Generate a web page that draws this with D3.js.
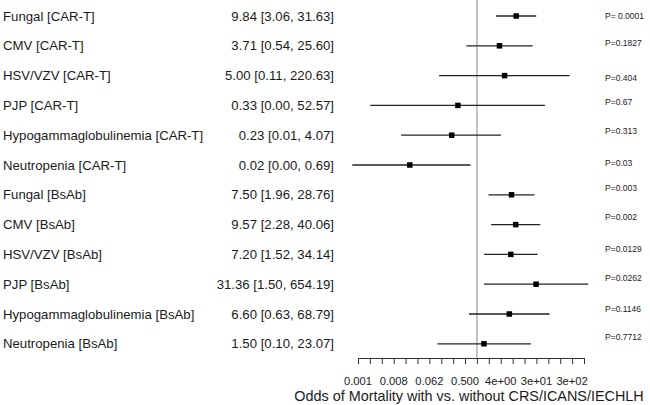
<!DOCTYPE html>
<html>
<head>
<meta charset="utf-8">
<script src="https://cdn.jsdelivr.net/npm/d3@7"></script>
<style>
  html, body { margin: 0; padding: 0; background: #fff; }
  svg { display: block; font-family: "Liberation Sans", Arial, sans-serif; }
</style>
</head>
<body>
<svg id="chart" width="650" height="405"></svg>
<script>
// ---- data ----
const categories = [
  "Fungal [CAR-T]", "CMV [CAR-T]", "HSV/VZV [CAR-T]", "PJP [CAR-T]",
  "Hypogammaglobulinemia [CAR-T]", "Neutropenia [CAR-T]",
  "Fungal [BsAb]", "CMV [BsAb]", "HSV/VZV [BsAb]", "PJP [BsAb]",
  "Hypogammaglobulinemia [BsAb]", "Neutropenia [BsAb]"
];
const oddsRatio = [9.84, 3.71, 5.00, 0.33, 0.23, 0.02, 7.50, 9.57, 7.20, 31.36, 6.60, 1.50];
const ciLower   = [3.06, 0.54, 0.11, 0.002, 0.012, 0.0007, 1.96, 2.28, 1.52, 1.50, 0.63, 0.10];
const ciUpper   = [31.63, 25.60, 220.63, 52.57, 4.07, 0.69, 28.76, 40.06, 34.14, 654.19, 68.79, 23.07];
const pLabels   = ["P= 0.0001", "P=0.1827", "P=0.404", "P=0.67", "P=0.313", "P=0.03",
                   "P=0.003", "P=0.002", "P=0.0129", "P=0.0262", "P=0.1146", "P=0.7712"];
// row position (in row units) at which each P label sits
const pLabelRow = [0, 0.9, 2.08, 2.89, 3.86, 4.95, 5.77, 6.74, 7.82, 8.79, 9.83, 10.77];
const tickValues = [0.0009765625, 0.0078125, 0.0625, 0.5, 4, 32, 256];
const tickLabels = ["0.001", "0.008", "0.062", "0.500", "4e+00", "3e+01", "3e+02"];
const axisTitle = "Odds of Mortality with vs. without CRS/ICANS/IECHLH";

// ---- layout ----
const svg = d3.select("#chart");
const ink = "#1b1b1b";

const x = d3.scaleLog().base(2)
  .domain([Math.pow(2, -10), Math.pow(2, 9)])
  .range([358, 584]);

const rowY = d3.scaleLinear().domain([0, categories.length - 1]).range([16, 343.8]);
const y = d3.scalePoint().domain(categories).range([16, 343.8]);

const axisY = 358;

// reference line at OR = 1
svg.append("line")
  .attr("x1", x(1)).attr("x2", x(1))
  .attr("y1", 0).attr("y2", axisY)
  .attr("stroke", "#8a8a8a").attr("stroke-width", 1);

// row labels
svg.append("g").selectAll("text")
  .data(categories).join("text")
  .attr("x", 3)
  .attr("y", d => y(d))
  .attr("dy", "0.35em")
  .attr("font-size", 13.2)
  .attr("fill", ink)
  .text(d => d);

// estimates text
const fmt = v => v.toFixed(2);
svg.append("g").selectAll("text")
  .data(categories).join("text")
  .attr("x", 334)
  .attr("y", d => y(d))
  .attr("dy", "0.35em")
  .attr("text-anchor", "end")
  .attr("font-size", 13.2)
  .attr("fill", ink)
  .text((d, i) => `${fmt(oddsRatio[i])} [${fmt(ciLower[i])}, ${fmt(ciUpper[i])}]`);

// CI lines
svg.append("g").selectAll("line")
  .data(categories).join("line")
  .attr("x1", (d, i) => x(ciLower[i]))
  .attr("x2", (d, i) => x(ciUpper[i]))
  .attr("y1", d => y(d)).attr("y2", d => y(d))
  .attr("stroke", "#222").attr("stroke-width", 1.3);

// point squares
const sq = 5.5;
svg.append("g").selectAll("rect")
  .data(categories).join("rect")
  .attr("x", (d, i) => x(oddsRatio[i]) - sq / 2)
  .attr("y", d => y(d) - sq / 2)
  .attr("width", sq).attr("height", sq)
  .attr("fill", "#000");

// P values
svg.append("g").selectAll("text")
  .data(pLabels).join("text")
  .attr("x", 605)
  .attr("y", (d, i) => rowY(pLabelRow[i]))
  .attr("dy", "0.35em")
  .attr("font-size", 8.5)
  .attr("fill", ink)
  .text(d => d);

// x axis
const minorTicks = d3.range(-10, 10).map(k => Math.pow(2, k));
const axisG = svg.append("g").attr("transform", `translate(0,${axisY})`);
axisG.call(d3.axisBottom(x).tickValues(minorTicks).tickFormat("").tickSizeOuter(0).tickSizeInner(6));
axisG.select(".domain").attr("stroke", "#333").attr("stroke-width", 1);
axisG.selectAll(".tick line").attr("stroke", "#333").attr("stroke-width", 1);

svg.append("g").selectAll("text")
  .data(tickValues).join("text")
  .attr("x", d => x(d))
  .attr("y", 385)
  .attr("text-anchor", "middle")
  .attr("font-size", 11.2)
  .attr("fill", ink)
  .text((d, i) => tickLabels[i]);

svg.append("text")
  .attr("x", 469)
  .attr("y", 401)
  .attr("text-anchor", "middle")
  .attr("font-size", 14.4)
  .attr("fill", ink)
  .text(axisTitle);
</script>
</body>
</html>
